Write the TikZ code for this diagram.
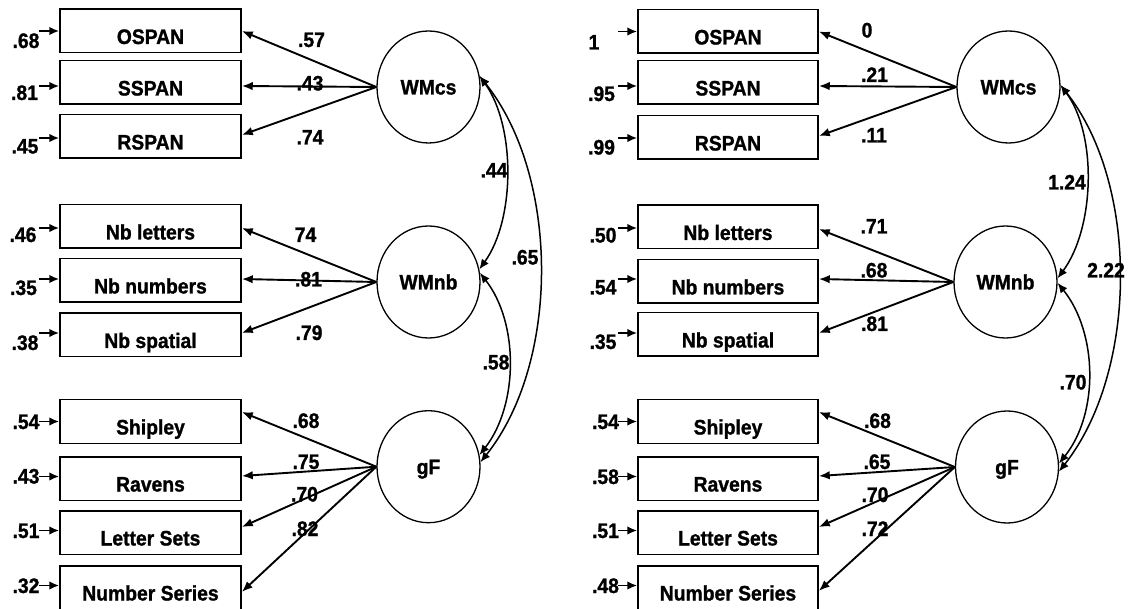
\documentclass[tikz,border=0pt]{standalone}
\usepackage{fontspec}
\setmainfont{Liberation Sans}[BoldFeatures={FakeBold=1.2,FakeStretch=0.92}]
\usetikzlibrary{arrows.meta,shapes.geometric}
\tikzset{
  semBox/.style={
    draw,
    line width=1.5pt,
    minimum width=181pt,
    minimum height=43.5pt,
    inner sep=0pt,
    text height=26pt,
    text depth=0pt,
    font=\fontsize{21pt}{23pt}\selectfont\bfseries
  },
  semLatent/.style={
    ellipse,
    draw,
    line width=1.3pt,
    minimum width=103pt,
    minimum height=112pt,
    inner sep=0pt,
    text height=15pt,
    text depth=0pt,
    font=\fontsize{21pt}{23pt}\selectfont\bfseries
  },
  semNum/.style={
    inner sep=0pt,
    text height=15pt,
    text depth=0pt,
    font=\fontsize{21pt}{23pt}\selectfont\bfseries
  },
  semArrow/.style={
    -{Latex[length=11pt,width=8.5pt]},
    line width=1.9pt
  },
  semErr/.style={
    -{Latex[length=10pt,width=8.5pt]},
    line width=1.9pt
  },
  semCov/.style={
    {Latex[length=10pt,width=8.5pt]}-{Latex[length=10pt,width=8.5pt]},
    line width=1.5pt
  }
}

\begin{document}
\begin{tikzpicture}[x=1pt,y=-1pt]
\useasboundingbox (0,0) rectangle (1130,609);

% Left model: indicators.
\node[semBox] (ospanL)   at (150.5,31)    {OSPAN};
\node[semBox] (sspanL)   at (150.5,82.5)  {SSPAN};
\node[semBox] (rspanL)   at (150.5,136.5) {RSPAN};
\node[semBox] (lettersL) at (150.5,226.5) {Nb letters};
\node[semBox] (numbersL) at (150.5,280.5) {Nb numbers};
\node[semBox] (spatialL) at (150.5,335)   {Nb spatial};
\node[semBox] (shipleyL) at (150.5,421.5) {Shipley};
\node[semBox] (ravensL)  at (150.5,478.5) {Ravens};
\node[semBox] (lsetsL)   at (150.5,532.5) {Letter Sets};
\node[semBox] (nseriesL) at (150.5,587.5) {Number Series};

% Left model: latent factors.
\node[semLatent] (wmcsL) at (428.5,87)    {WMcs};
\node[semLatent] (wmnbL) at (428.5,282)   {WMnb};
\node[semLatent] (gfL)   at (428.5,466.7) {gF};

\draw[semArrow] (wmcsL.west) -- (ospanL.east);
\draw[semArrow] (wmcsL.west) -- ([yshift=-3.5pt]sspanL.east);
\draw[semArrow] (wmcsL.west) -- ([yshift=1.5pt]rspanL.east);
\draw[semArrow] (wmnbL.west) -- ([yshift=-1.5pt]lettersL.east);
\draw[semArrow] (wmnbL.west) -- ([yshift=1.5pt]numbersL.east);
\draw[semArrow] (wmnbL.west) -- ([yshift=2pt]spatialL.east);
\draw[semArrow] (gfL.west) -- ([yshift=9.5pt]shipleyL.east);
\draw[semArrow] (gfL.west) -- ([yshift=2.5pt]ravensL.east);
\draw[semArrow] (gfL.west) -- ([yshift=5.5pt]lsetsL.east);
\draw[semArrow] (gfL.west) -- ([yshift=-4.5pt]nseriesL.east);

\node[semNum] (lOspanL)   at (311.5,39.5) {.57};
\node[semNum] (lSspanL)   at (310,83)     {.43};
\node[semNum] (lRspanL)   at (310,137)    {.74};
\node[semNum] (lLettersL) at (305.5,234.5) {74};
\node[semNum] (lNumbersL) at (308.5,279)  {.81};
\node[semNum] (lSpatialL) at (309,332.5)  {.79};
\node[semNum] (lShipleyL) at (306,420.5)  {.68};
\node[semNum] (lRavensL)  at (306,461.5)  {.75};
\node[semNum] (lLsetsL)   at (304.5,494)  {.70};
\node[semNum] (lNseriesL) at (305,528.5)  {.82};

% Left model: residuals.
\node[semNum] (eOspanL)   at (26,40.5)   {.68};
\node[semNum] (eSspanL)   at (24.5,92.5) {.81};
\node[semNum] (eRspanL)   at (25,146)    {.45};
\node[semNum] (eLettersL) at (23,234.5)  {.46};
\node[semNum] (eNumbersL) at (23.5,287.5) {.35};
\node[semNum] (eSpatialL) at (25,342.5)  {.38};
\node[semNum] (eShipleyL) at (26,421.5)  {.54};
\node[semNum] (eRavensL)  at (26,476)    {.43};
\node[semNum] (eLsetsL)   at (26,530.5)  {.51};
\node[semNum] (eNseriesL) at (26,585.5)  {.32};

\draw[semErr] ([xshift=-20pt]ospanL.west) -- (ospanL.west);
\draw[semErr] ([xshift=-20pt,yshift=-3.5pt]sspanL.west) -- ([yshift=-3.5pt]sspanL.west);
\draw[semErr] ([xshift=-20pt,yshift=-1.5pt]rspanL.west) -- ([yshift=-1.5pt]rspanL.west);
\draw[semErr] ([xshift=-20pt,yshift=-1.5pt]lettersL.west) -- ([yshift=-1.5pt]lettersL.west);
\draw[semErr] ([xshift=-20pt,yshift=1.5pt]numbersL.west) -- ([yshift=1.5pt]numbersL.west);
\draw[semErr] ([xshift=-20pt,yshift=2pt]spatialL.west) -- ([yshift=2pt]spatialL.west);
\draw[semErr] ([xshift=-20pt]shipleyL.west) -- (shipleyL.west);
\draw[semErr] ([xshift=-20pt,yshift=2pt]ravensL.west) -- ([yshift=2pt]ravensL.west);
\draw[semErr] ([xshift=-20pt,yshift=2pt]lsetsL.west) -- ([yshift=2pt]lsetsL.west);
\draw[semErr] ([xshift=-20pt,yshift=2pt]nseriesL.west) -- ([yshift=2pt]nseriesL.west);

% Left model: factor covariances.
\draw[semCov] (wmcsL.12) .. controls +(36,50) and +(36,-50) .. (wmnbL.14);
\draw[semCov] (wmcsL.12) .. controls +(80,100) and +(80,-100) .. (gfL.5);
\draw[semCov] (wmnbL.10) .. controls +(39,50) and +(39,-50) .. (gfL.13);
\node[semNum] (cNbL) at (494,170) {.44};
\node[semNum] (cGfL) at (525,257) {.65};
\node[semNum] (cNgL) at (496,362) {.58};

% Right model: indicators.
\node[semBox, minimum width=180pt] (ospanR)   at (728,31.5)  {OSPAN};
\node[semBox, minimum width=180pt] (sspanR)   at (728,82.5)  {SSPAN};
\node[semBox, minimum width=180pt] (rspanR)   at (728,137.5) {RSPAN};
\node[semBox, minimum width=180pt] (lettersR) at (728,227)   {Nb letters};
\node[semBox, minimum width=180pt] (numbersR) at (728,281.5) {Nb numbers};
\node[semBox, minimum width=180pt] (spatialR) at (728,334.5) {Nb spatial};
\node[semBox, minimum width=180pt] (shipleyR) at (728,421.5) {Shipley};
\node[semBox, minimum width=180pt] (ravensR)  at (728,478.5) {Ravens};
\node[semBox, minimum width=180pt] (lsetsR)   at (728,532.5) {Letter Sets};
\node[semBox, minimum width=180pt] (nseriesR) at (728,587.5) {Number Series};

% Right model: latent factors.
\node[semLatent] (wmcsR) at (1008.5,87) {WMcs};
\node[semLatent] (wmnbR) at (1005.5,282) {WMnb};
\node[semLatent] (gfR)   at (1007,467)  {gF};

\draw[semArrow] (wmcsR.west) -- (ospanR.east);
\draw[semArrow] (wmcsR.west) -- ([yshift=-3.5pt]sspanR.east);
\draw[semArrow] (wmcsR.west) -- ([yshift=1.5pt]rspanR.east);
\draw[semArrow] (wmnbR.west) -- ([yshift=-2pt]lettersR.east);
\draw[semArrow] (wmnbR.west) -- ([yshift=2.5pt]numbersR.east);
\draw[semArrow] (wmnbR.west) -- ([yshift=1.5pt]spatialR.east);
\draw[semArrow] (gfR.west) -- ([yshift=9.5pt]shipleyR.east);
\draw[semArrow] (gfR.west) -- ([yshift=2.5pt]ravensR.east);
\draw[semArrow] (gfR.west) -- ([yshift=5.5pt]lsetsR.east);
\draw[semArrow] (gfR.west) -- ([yshift=-3.5pt]nseriesR.east);

\node[semNum] (lOspanR)   at (867,30)      {0};
\node[semNum] (lSspanR)   at (874.5,74.5)  {.21};
\node[semNum] (lRspanR)   at (874,135)     {.11};
\node[semNum] (lLettersR) at (874,226)     {.71};
\node[semNum] (lNumbersR) at (874,270)     {.68};
\node[semNum] (lSpatialR) at (874.5,323.5) {.81};
\node[semNum] (lShipleyR) at (877.5,420.5) {.68};
\node[semNum] (lRavensR)  at (877,461.5)   {.65};
\node[semNum] (lLsetsR)   at (875,494.5)   {.70};
\node[semNum] (lNseriesR) at (875,528.5)   {.72};

% Right model: residuals.
\node[semNum] (eOspanR)   at (594,42)      {1};
\node[semNum] (eSspanR)   at (601.5,93.5)  {.95};
\node[semNum] (eRspanR)   at (601.5,147)   {.99};
\node[semNum] (eLettersR) at (603,235)     {.50};
\node[semNum] (eNumbersR) at (603,287)     {.54};
\node[semNum] (eSpatialR) at (603,341.5)   {.35};
\node[semNum] (eShipleyR) at (605.5,421.5) {.54};
\node[semNum] (eRavensR)  at (605.5,476.5) {.58};
\node[semNum] (eLsetsR)   at (605.5,530.5) {.51};
\node[semNum] (eNseriesR) at (605.5,585.5) {.48};

\draw[semErr] ([xshift=-19pt]ospanR.west) -- (ospanR.west);
\draw[semErr] ([xshift=-19pt,yshift=-3.5pt]sspanR.west) -- ([yshift=-3.5pt]sspanR.west);
\draw[semErr] ([xshift=-19pt,yshift=-0.5pt]rspanR.west) -- ([yshift=-0.5pt]rspanR.west);
\draw[semErr] ([xshift=-19pt,yshift=-1pt]lettersR.west) -- ([yshift=-1pt]lettersR.west);
\draw[semErr] ([xshift=-19pt,yshift=2.5pt]numbersR.west) -- ([yshift=2.5pt]numbersR.west);
\draw[semErr] ([xshift=-19pt,yshift=1.5pt]spatialR.west) -- ([yshift=1.5pt]spatialR.west);
\draw[semErr] ([xshift=-19pt]shipleyR.west) -- (shipleyR.west);
\draw[semErr] ([xshift=-19pt,yshift=2pt]ravensR.west) -- ([yshift=2pt]ravensR.west);
\draw[semErr] ([xshift=-19pt,yshift=2pt]lsetsR.west) -- ([yshift=2pt]lsetsR.west);
\draw[semErr] ([xshift=-19pt,yshift=2pt]nseriesR.west) -- ([yshift=2pt]nseriesR.west);

% Right model: factor covariances.
\draw[semCov] (wmcsR.2) .. controls +(37,50) and +(37,-50) .. (wmnbR.4);
\draw[semCov] (wmcsR.2) .. controls +(79,100) and +(79,-100) .. (gfR.-5);
\draw[semCov] (wmnbR.-1) .. controls +(40,50) and +(40,-50) .. (gfR.4);
\node[semNum] (cNbR) at (1067,182) {1.24};
\node[semNum] (cGfR) at (1106,270) {2.22};
\node[semNum] (cNgR) at (1073,382) {.70};

\end{tikzpicture}
\end{document}
